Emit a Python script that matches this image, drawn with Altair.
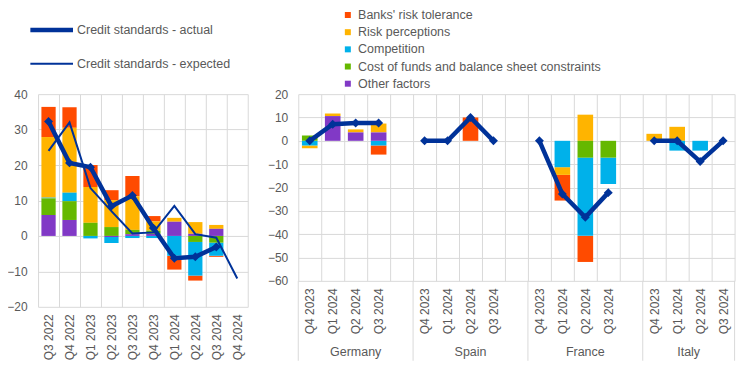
import altair as alt
import pandas as pd

# ---------------- data ----------------
FACTORS = ["Banks' risk tolerance", "Risk perceptions", "Competition",
           "Cost of funds and balance sheet constraints", "Other factors"]
COLORS = ["#FF4B00", "#FFB400", "#00B1EA", "#65B800", "#8139C6"]
LINE_COLOR = "#003299"
SERIES = ["Credit standards - actual", "Credit standards - expected"]

left_quarters = ["Q3 2022", "Q4 2022", "Q1 2023", "Q2 2023", "Q3 2023",
                 "Q4 2023", "Q1 2024", "Q2 2024", "Q3 2024", "Q4 2024"]
left_banks = [8.5, 5.8, 6.2, 2.8, 5.7, 1.5, -3.9, -1.4, -0.3, 0]
left_risk = [17.1, 18.3, 10.1, 7.6, 9.5, 2.6, 1.1, 3.3, 1.1, 0]
left_comp = [0.2, 2.4, -0.7, -1.7, -0.6, -0.6, -5.6, -9.5, -3.7, 0]
left_cost = [4.7, 5.3, 3.7, 2.5, 1.2, 0.9, 0.0, -1.7, -1.9, 0]
left_other = [5.9, 4.5, 0.0, -0.3, 0.5, 0.6, 4.0, 0.6, 2.0, 0]
left_actual = [32.3, 20.6, 19.4, 8.4, 11.4, 2.2, -6.3, -5.9, -3.1, None]
left_expected = [24.0, 32.0, 13.5, 7.0, 0.7, 1.0, 8.5, 0.5, -0.5, -12.0]

countries = ["Germany", "Spain", "France", "Italy"]
right_quarters = ["Q4 2023", "Q1 2024", "Q2 2024", "Q3 2024"]
# 16 values: Germany(4), Spain(4), France(4), Italy(4)
right_banks = [0, 0, 0, -3.9,   0, 0, 10.0, 0,   0, -11.0, -11.2, 0,   0, 0, 0, 0]
right_risk = [-1.2, 1.1, 1.3, 3.8,   0, 0, 0, 0,   0, -3.3, 11.2, 0,   3.0, 6.0, 0, 0]
right_comp = [-2.0, 0, 0, -2.0,   0, 0, 0, 0,   0, -11.3, -33.5, -11.3,   0, -4.2, -4.2, 0]
right_cost = [2.3, 0, 0, 0,   0, 0, 0, 0,   0, 0, -7.2, -7.2,   0, 0, 0, 0]
right_other = [0, 10.6, 3.6, 3.6,   0, 0, 0, 0,   0, 0, 0, 0,   0, 0, 0, 0]
right_actual = [0, 7.1, 7.6, 7.6,   0, 0, 10.0, 0,   0, -22.8, -32.8, -22.2,   0, 0, -8.9, 0]

# ---------------- tables ----------------
factor_lists_left = [left_banks, left_risk, left_comp, left_cost, left_other]
rows = []
for i, q in enumerate(left_quarters):
    for k, f in enumerate(FACTORS):
        v = factor_lists_left[k][i]
        if v:
            rows.append({"quarter": q, "factor": f, "value": v, "stack_order": len(FACTORS) - 1 - k})
left_bars = pd.DataFrame(rows)
left_lines = pd.DataFrame({"quarter": left_quarters, "actual": left_actual, "expected": left_expected})

right_keys = []
for c in countries:
    for q in right_quarters:
        right_keys.append(f"{c}|{q}")
    if c != countries[-1]:
        right_keys.append(f"{c}|")

factor_lists_right = [right_banks, right_risk, right_comp, right_cost, right_other]
rows = []
line_rows = []
idx = 0
for c in countries:
    for q in right_quarters:
        for k, f in enumerate(FACTORS):
            v = factor_lists_right[k][idx]
            if v:
                rows.append({"key": f"{c}|{q}", "country": c, "factor": f, "value": v,
                             "stack_order": len(FACTORS) - 1 - k})
        line_rows.append({"key": f"{c}|{q}", "country": c, "actual": right_actual[idx]})
        idx += 1
right_bars = pd.DataFrame(rows)
right_lines = pd.DataFrame(line_rows)

# ---------------- layout constants ----------------
W_L, H_L = 210, 213
W_R, H_R = 437, 187
FONT = "Liberation Sans"
TXT = "#595959"
GRID = "#d9d9d9"

color_scale = alt.Scale(domain=FACTORS, range=COLORS)

# ---------------- left panel ----------------
xl_scale = alt.Scale(domain=left_quarters, paddingInner=0, paddingOuter=0)
xl_axis = alt.Axis(title=None, labelAngle=-90, grid=True, tickBand="extent", ticks=False,
                   domain=False, labelPadding=7)
xl = alt.X("quarter:N", scale=xl_scale, axis=xl_axis)
yl_scale = alt.Scale(domain=[-20, 40], nice=False)
yl_axis = alt.Axis(title=None, values=list(range(-20, 41, 10)), grid=True, ticks=False, tickSize=0,
                   domain=False, labelPadding=11)

left_bar_layer = alt.Chart(left_bars).mark_bar(width=alt.RelativeBandSize(0.68)).encode(
    x=xl,
    y=alt.Y("value:Q", stack="zero", scale=yl_scale, axis=yl_axis, title=None),
    color=alt.Color("factor:N", scale=color_scale,
                    legend=alt.Legend(title=None, orient="none", legendX=304, legendY=-85.5,
                                      symbolType="square", symbolSize=36, symbolStrokeWidth=0,
                                      symbolOpacity=1, labelFontSize=12.5, labelColor=TXT,
                                      labelFont=FONT, labelLimit=400, rowPadding=4.2,
                                      labelOffset=4, padding=0, direction="vertical")),
    order=alt.Order("stack_order:Q"),
)
left_expected_layer = alt.Chart(left_lines).mark_line(color=LINE_COLOR, strokeWidth=2).encode(
    x=xl, y=alt.Y("expected:Q", scale=yl_scale, axis=yl_axis, title=None))
left_actual_layer = alt.Chart(left_lines).mark_line(color=LINE_COLOR, strokeWidth=4.5).encode(
    x=xl, y=alt.Y("actual:Q", scale=yl_scale, axis=yl_axis, title=None))
left_points = alt.Chart(left_lines).mark_point(shape="diamond", filled=True, size=80, opacity=1,
                                               color=LINE_COLOR).encode(
    x=xl, y=alt.Y("actual:Q", scale=yl_scale, axis=yl_axis, title=None))

legend_layers = []
for i, name in enumerate(SERIES):
    ly = -64.2 + 33.7 * i
    d = pd.DataFrame({"series": [name]})
    legend_layers.append(alt.Chart(d).mark_rule(color=LINE_COLOR, strokeWidth=[4.5, 2][i]).encode(
        x=alt.value(-7.7), x2=alt.value(35), y=alt.value(ly)))
    legend_layers.append(alt.Chart(d).mark_text(align="left", baseline="middle", font=FONT,
                                                fontSize=12.5, color=TXT).encode(
        x=alt.value(39), y=alt.value(ly), text="series:N"))

left = alt.layer(left_bar_layer, left_expected_layer, left_actual_layer, left_points,
                 *legend_layers).properties(width=W_L, height=H_L)

# ---------------- right panel ----------------
xr_scale = alt.Scale(domain=right_keys, paddingInner=0, paddingOuter=0)
xr_axis = alt.Axis(title=None, labelAngle=-90, grid=True, tickBand="extent", ticks=False,
                   domain=False, labelPadding=7,
                   labelExpr="split(datum.value, '|')[1]")
xr = alt.X("key:N", scale=xr_scale, axis=xr_axis, title=None)
yr_scale = alt.Scale(domain=[-60, 20], nice=False)
yr_axis = alt.Axis(title=None, values=list(range(-60, 21, 10)), grid=True, ticks=False, tickSize=0,
                   domain=False, labelPadding=10.5)

right_bar_layer = alt.Chart(right_bars).mark_bar(width=alt.RelativeBandSize(0.68)).encode(
    x=xr,
    y=alt.Y("value:Q", stack="zero", scale=yr_scale, axis=yr_axis, title=None),
    color=alt.Color("factor:N", scale=color_scale, legend=None),
    order=alt.Order("stack_order:Q"),
)
right_line = alt.Chart(right_lines).mark_line(color=LINE_COLOR, strokeWidth=4.5).encode(
    x=xr, y=alt.Y("actual:Q", scale=yr_scale, axis=yr_axis, title=None), detail="country:N")
right_points = alt.Chart(right_lines).mark_point(shape="diamond", filled=True, size=80, opacity=1,
                                                 color=LINE_COLOR).encode(
    x=xr, y=alt.Y("actual:Q", scale=yr_scale, axis=yr_axis, title=None))

five_slot = pd.DataFrame({"country": countries[:3],
                          "key": [f"{c}|Q2 2024" for c in countries[:3]]})
four_slot = pd.DataFrame({"country": countries[3:],
                          "key": [f"{c}|Q1 2024" for c in countries[3:]]})
group_lab1 = alt.Chart(five_slot).mark_text(baseline="middle", font=FONT, fontSize=12.5, color=TXT).encode(
    x=alt.X("key:N", scale=xr_scale, axis=xr_axis, title=None, bandPosition=0.5),
    y=alt.value(H_R + 71), text="country:N")
group_lab2 = alt.Chart(four_slot).mark_text(baseline="middle", font=FONT, fontSize=12.5, color=TXT).encode(
    x=alt.X("key:N", scale=xr_scale, axis=xr_axis, title=None, bandPosition=1),
    y=alt.value(H_R + 71), text="country:N")

sep = pd.DataFrame({"key": [f"{c}|Q4 2023" for c in countries]})
seps = alt.Chart(sep).mark_rule(color=GRID, strokeWidth=1).encode(
    x=alt.X("key:N", scale=xr_scale, axis=xr_axis, title=None, bandPosition=0),
    y=alt.value(H_R), y2=alt.value(H_R + 80))
end_sep = alt.Chart(pd.DataFrame({"key": [right_keys[-1]]})).mark_rule(color=GRID, strokeWidth=1).encode(
    x=alt.X("key:N", scale=xr_scale, axis=xr_axis, title=None, bandPosition=1),
    y=alt.value(H_R), y2=alt.value(H_R + 80))

right = alt.layer(right_bar_layer, right_line, right_points, group_lab1, group_lab2, seps,
                  end_sep).properties(width=W_R, height=H_R)

chart = alt.hconcat(left, right, spacing=50.6, bounds="flush").resolve_scale(
    color="independent"
).configure(
    padding={"left": -1.9, "top": 0, "right": 0, "bottom": 0}
).configure_view(stroke=None).configure_axis(
    labelFont=FONT, labelFontSize=12, labelColor=TXT, gridColor=GRID, gridWidth=1
)

chart.save("out.html", embed_options={"renderer": "svg", "actions": False})
